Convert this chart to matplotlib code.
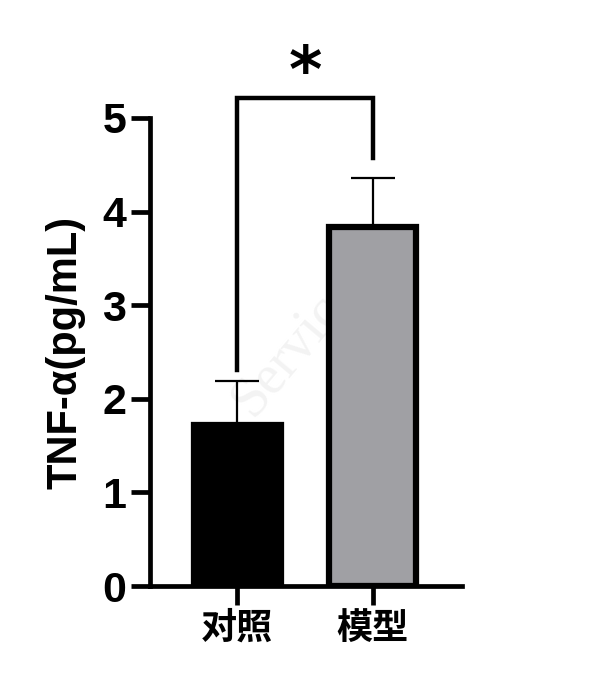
import matplotlib
matplotlib.use("Agg")
import matplotlib.pyplot as plt

groups = ["对照", "模型"]
means = [1.72, 3.84]
errs = [0.47, 0.52]
colors = ["black", "#a0a0a4"]
ylabel = "TNF-α(pg/mL)"
yticks = [0, 1, 2, 3, 4, 5]

plt.rcParams["font.family"] = ["Liberation Sans", "Noto Sans CJK SC", "DejaVu Sans"]
plt.rcParams["font.weight"] = "bold"

fig = plt.figure(figsize=(6, 6.92), dpi=100)
ax = fig.add_axes([0.25, 0.153, 0.52, 0.6765])

x = list(range(len(groups)))
ax.bar(x, means, width=0.64, color=colors, edgecolor="black", linewidth=4.5, zorder=2)
ax.errorbar(x, means, yerr=[[0] * len(errs), errs], fmt="none", ecolor="black",
            elinewidth=1.6, capsize=15.5, capthick=1.6, zorder=1)

# significance bracket
tops = [m + e for m, e in zip(means, errs)]
top = max(tops) + 0.85
ax.plot([x[0], x[0], x[1], x[1]], [tops[0] + 0.12, top, top, tops[1] + 0.21],
        color="black", lw=3.2, clip_on=False, solid_joinstyle="miter")
ax.text((x[0] + x[1]) / 2, top + 0.26, "*", ha="center", va="center",
        fontsize=46, fontweight="bold", family="DejaVu Sans")

# faint watermark behind the plot
fig.text(0.53, 0.54, "Servicebio", rotation=50, fontsize=40, color="#f3f3f3",
         family="Liberation Serif", fontweight="normal", ha="center", va="center", zorder=-1)

ax.set_xlim(-0.64, 1.655)
ax.set_ylim(0, 5)
ax.set_yticks(yticks)
ax.set_xticks(x)
ax.set_xticklabels(groups, fontsize=26, fontweight="bold", family=["Noto Sans CJK SC"])
ax.set_ylabel(ylabel, fontsize=30, fontweight="bold", labelpad=12)
for lab in ax.get_yticklabels():
    lab.set_fontsize(31)
    lab.set_fontweight("bold")

for side in ["top", "right"]:
    ax.spines[side].set_visible(False)
for side in ["left", "bottom"]:
    ax.spines[side].set_linewidth(3.4)
ax.tick_params(axis="both", width=3.4, length=14, pad=3)
ax.set_facecolor("none")

fig.savefig("out.png", dpi=100)
